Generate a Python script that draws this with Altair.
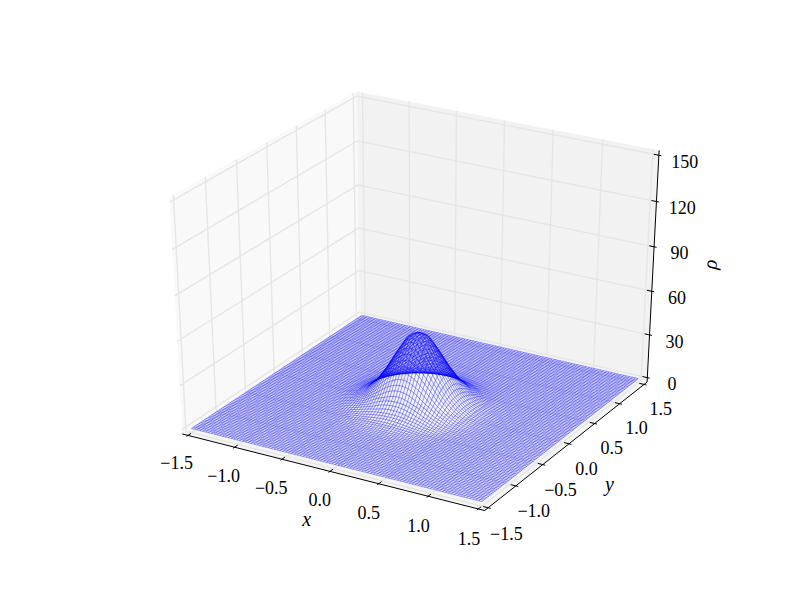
import numpy as np
import pandas as pd
import altair as alt

# ---- values ----
x_ticks = [-1.5, -1.0, -0.5, 0.0, 0.5, 1.0, 1.5]
y_ticks = [-1.5, -1.0, -0.5, 0.0, 0.5, 1.0, 1.5]
z_ticks = [0, 30, 60, 90, 120, 150]
tick_text = {-1.5: "\u22121.5", -1.0: "\u22121.0", -0.5: "\u22120.5", 0.0: "0.0", 0.5: "0.5", 1.0: "1.0", 1.5: "1.5"}
# height of the bump against distance from its centre, estimated from the silhouette;
# the dense wireframe samples this table
profile_r = [0.0, 0.1, 0.2, 0.3, 0.4, 0.5, 0.6, 0.7, 0.8, 0.9, 1.0, 3.0]
profile_rho = [49.0, 45.5, 34.5, 22.5, 12.5, 6.0, 2.4, 0.8, 0.2, 0.05, 0.0, 0.0]
n_lines = 100

xlim = (-1.5, 1.5)
ylim = (-1.5, 1.5)
zlim = (0.0, 150.0)
elev, azim, dist = 30.0, -60.0, 10.0


def project(x, y, z):
    """mplot3d-style perspective view, into the figure's 800x600 frame."""
    x, y, z = np.asarray(x, float), np.asarray(y, float), np.asarray(z, float)
    w = np.stack([(x - xlim[0]) / (xlim[1] - xlim[0]),
                  (y - ylim[0]) / (ylim[1] - ylim[0]),
                  (z - zlim[0]) / (zlim[1] - zlim[0])], axis=-1)
    re, ra = np.radians(elev), np.radians(azim)
    R = np.array([0.5, 0.5, 0.5])
    E = R + dist * np.array([np.cos(ra) * np.cos(re), np.sin(ra) * np.cos(re), np.sin(re)])
    n = (E - R) / np.linalg.norm(E - R)
    u = np.cross([0, 0, 1], n)
    u = u / np.linalg.norm(u)
    v = np.cross(n, u)
    d = w - E
    xv, yv, zv = d @ u, d @ v, d @ n
    px, py = xv / -zv, yv / -zv
    X = 100 + (px + 0.095) / 0.185 * 620
    Y = 540 - (py + 0.095) / 0.185 * 480
    return X, Y


def pad(lim):
    delta = (lim[1] - lim[0]) / 12
    return lim[0] - delta / 4, lim[1] + delta / 4, delta


x0, x1, dx = pad(xlim)
y0, y1, dy = pad(ylim)
z0, z1, dz = pad(zlim)

sx = alt.Scale(domain=[8, 792], nice=False, zero=False)
sy = alt.Scale(domain=[592, 8], nice=False, zero=False)
X = alt.X("px:Q", scale=sx, axis=None)
Y = alt.Y("py:Q", scale=sy, axis=None)


def polyline(points, gid=0):
    a = np.array(points, float)
    px, py = project(a[:, 0], a[:, 1], a[:, 2])
    return pd.DataFrame({"px": px, "py": py, "gid": gid, "ord": np.arange(len(a))})


def pane(points, color):
    a = np.array(points, float)
    px, py = project(a[:, 0], a[:, 1], a[:, 2])
    xs = np.unique(px)
    top, bot = [], []
    for xv in xs:
        hits = []
        for i in range(len(px)):
            j = (i + 1) % len(px)
            lo, hi = min(px[i], px[j]), max(px[i], px[j])
            if lo <= xv <= hi:
                if hi == lo:
                    hits += [py[i], py[j]]
                else:
                    hits.append(py[i] + (xv - px[i]) / (px[j] - px[i]) * (py[j] - py[i]))
        top.append(min(hits))
        bot.append(max(hits))
    df = pd.DataFrame({"px": xs, "py": top, "py2": bot})
    return alt.Chart(df).mark_area(color=color, opacity=1, strokeWidth=0).encode(X, Y, y2="py2:Q")


layers = [
    pane([(x0, y0, z0), (x0, y1, z0), (x0, y1, z1), (x0, y0, z1)], "#f9f9f9"),
    pane([(x0, y1, z0), (x1, y1, z0), (x1, y1, z1), (x0, y1, z1)], "#f2f2f2"),
    pane([(x0, y0, z0), (x1, y0, z0), (x1, y1, z0), (x0, y1, z0)], "#f5f5f5"),
]

# grid lines
grid = []
g = 0
for t in x_ticks:
    grid.append(polyline([(t, y0, z0), (t, y1, z0), (t, y1, z1)], g)); g += 1
for t in y_ticks:
    grid.append(polyline([(x1, t, z0), (x0, t, z0), (x0, t, z1)], g)); g += 1
for t in z_ticks:
    grid.append(polyline([(x0, y0, t), (x0, y1, t), (x1, y1, t)], g)); g += 1
line_enc = dict(x=X, y=Y, detail="gid:N", order="ord:Q")
layers.append(alt.Chart(pd.concat(grid)).mark_line(color="#e6e6e6", strokeWidth=1.4).encode(**line_enc))

# axis lines and ticks
ax = [polyline([(x0, y0, z0), (x1, y0, z0)], 0),
      polyline([(x1, y0, z0), (x1, y1, z0)], 1),
      polyline([(x1, y1, z0), (x1, y1, z1)], 2)]
g = 3
for t in x_ticks:
    ax.append(polyline([(t, y0 - 0.1 * dy, z0), (t, y0 + 0.2 * dy, z0)], g)); g += 1
for t in y_ticks:
    ax.append(polyline([(x1 + 0.1 * dx, t, z0), (x1 - 0.2 * dx, t, z0)], g)); g += 1
for t in z_ticks:
    ax.append(polyline([(x1 + 0.1 * dx, y1, t), (x1 - 0.2 * dx, y1, t)], g)); g += 1
layers.append(alt.Chart(pd.concat(ax)).mark_line(color="black", strokeWidth=1).encode(**line_enc))

# wireframe
gx = np.linspace(xlim[0], xlim[1], n_lines)
gy = np.linspace(ylim[0], ylim[1], n_lines)
XX, YY = np.meshgrid(gx, gy)
ZZ = np.interp(np.hypot(XX, YY), profile_r, profile_rho)
PX, PY = project(XX, YY, ZZ)
wire = []
for i in range(n_lines):
    wire.append(pd.DataFrame({"px": PX[i], "py": PY[i], "gid": i, "ord": np.arange(n_lines)}))
    wire.append(pd.DataFrame({"px": PX[:, i], "py": PY[:, i], "gid": n_lines + i, "ord": np.arange(n_lines)}))
layers.append(alt.Chart(pd.concat(wire)).mark_line(color="#0000ff", strokeWidth=0.4).encode(**line_enc))

# text
font = "Liberation Serif"
rows = []
for t in x_ticks:
    a, b = project(t + 0.12, y0 - 1.5 * dy, z0 - 0.05 * 150)
    rows.append((float(a), float(b), tick_text[t]))
for t in y_ticks:
    a, b = project(x1 + 0.74 * dx, t, z0 - 0.1 * 150)
    rows.append((float(a), float(b), tick_text[t]))
for t in z_ticks:
    a, b = project(x1 + 1.03 * dx, y1, t - 1.5)
    rows.append((float(a), float(b), str(t)))
tick_df = pd.DataFrame(rows, columns=["px", "py", "label"])
layers.append(alt.Chart(tick_df).mark_text(font=font, fontSize=18, align="center", baseline="middle", color="black").encode(X, Y, text="label:N"))

lab = []
a, b = project(0.33, y0 - 3.7 * dy, z0)
lab.append((float(a), float(b), "x", 0))
a, b = project(x1 + 2.8 * dx, -0.57, z0)
lab.append((float(a), float(b), "y", 0))
a, b = project(x1 + 2.15 * dx, y1 + 0.3 * dy, 84)
lab.append((float(a), float(b), "\u03c1", 275))
for px_, py_, s, ang in lab:
    df = pd.DataFrame({"px": [px_], "py": [py_], "label": [s]})
    kw = {"angle": ang} if ang else {}
    layers.append(alt.Chart(df).mark_text(font=font, fontSize=20, fontStyle="italic", align="center", baseline="middle", color="black", **kw).encode(X, Y, text="label:N"))

chart = alt.layer(*layers).properties(width=784, height=584, padding=0, background="white").configure_view(stroke=None)
chart.save("out.html", embed_options={"renderer": "svg", "actions": False})
